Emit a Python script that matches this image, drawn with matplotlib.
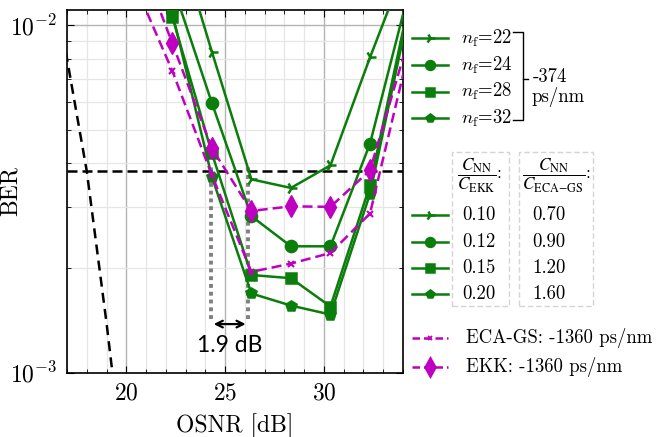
import numpy as np
import matplotlib
matplotlib.use("Agg")
import matplotlib.pyplot as plt
from matplotlib.lines import Line2D
from matplotlib.patches import Rectangle

plt.rcParams["font.family"] = "serif"
plt.rcParams["font.serif"] = ["cmr10"]
plt.rcParams["mathtext.fontset"] = "cm"
plt.rcParams["axes.unicode_minus"] = False
plt.rcParams["axes.formatter.use_mathtext"] = True

# OSNR grid of the measurements (points beyond the axes only extend the lines)
osnr = [20.33, 22.33, 24.33, 26.33, 28.33, 30.33, 32.33, 34.33]
nan = np.nan

# BER, -374 ps/nm, different filter lengths n_f
ber_nf22 = [nan, 0.0200, 0.00838, 0.00360, 0.00340, 0.00395, 0.00807, 0.0159]
ber_nf24 = [nan, 0.0131, 0.00597, 0.00282, 0.00231, 0.00231, 0.00456, 0.0127]
ber_nf28 = [nan, 0.01056, 0.00428, 0.00191, 0.00187, 0.00155, 0.00346, 0.0118]
ber_nf32 = [nan, 0.0108, 0.00366, 0.00169, 0.00156, 0.00147, 0.00327, 0.0112]

# BER, -1360 ps/nm references
ber_eca = [0.0135, 0.00738, 0.00370, 0.00195, 0.00206, 0.00221, 0.00287, 0.0086]
ber_ekk = [0.0177, 0.00886, 0.00442, 0.00292, 0.00301, 0.00300, 0.00382, 0.0093]

# back-to-back theory curve
osnr_b2b = [16.5, 17.0, 18.0, 19.0, 19.5]
ber_b2b = [0.0115, 0.0080, 0.0038, 0.00139, 0.00080]

hd_fec = 3.8e-3
gap_x = [24.28, 26.18]
gap_label = "1.9 dB"

nf_labels = [r"$n_\mathrm{f}$=22", r"$n_\mathrm{f}$=24", r"$n_\mathrm{f}$=28", r"$n_\mathrm{f}$=32"]
ratio_ekk = ["0.10", "0.12", "0.15", "0.20"]
ratio_eca = ["0.70", "0.90", "1.20", "1.60"]
nf_markers = ["4", "o", "s", "p"]
nf_sizes = [9, 8, 7, 7]

green = "#0a7d0a"
mag = "#c000c0"

W, H = 667, 437
fig = plt.figure(figsize=(W / 100, H / 100), dpi=100)
ax = fig.add_axes([67 / W, 1 - 372.7 / H, 336 / W, 362.7 / H])

series = [ber_nf22, ber_nf24, ber_nf28, ber_nf32]
for ber, mk, ms in zip(series, nf_markers, nf_sizes):
    ax.plot(osnr, ber, color=green, lw=1.8, marker=mk, ms=ms, mew=1.8, zorder=4)

ax.plot(osnr, ber_eca, color=mag, lw=1.8, ls=(0, (4, 2)), marker="x", ms=4, mew=1.5, zorder=5)
ax.plot(osnr, ber_ekk, color=mag, lw=1.8, ls=(0, (4, 2)), marker="d", ms=11, zorder=5)
ax.plot(osnr_b2b, ber_b2b, color="black", lw=1.8, ls=(0, (4, 2.5)), zorder=3)
ax.axhline(hd_fec, color="black", lw=1.8, ls=(0, (4, 2)), zorder=3)

ax.vlines(gap_x, 1.43e-3, 3.9e-3, colors="gray", lw=2.8, linestyles=(0, (1, 1)), zorder=2)
ax.annotate("", xy=(gap_x[0], 1.38e-3), xytext=(gap_x[1], 1.38e-3),
            arrowprops=dict(arrowstyle="<->", color="black", lw=1.6, mutation_scale=12))
ax.text(sum(gap_x) / 2, 1.2e-3, gap_label, family="Lato", fontsize=16.5, ha="center", va="center")

ax.set_yscale("log")
ax.set_xlim(17, 34)
ax.set_ylim(1e-3, 0.01105)
ax.set_xticks([20, 25, 30])
ax.set_xticks(np.arange(17, 35, 1), minor=True)
ax.set_yticks([1e-3, 1e-2])
ax.grid(which="major", color="#b4b4b4", lw=1.0)
ax.grid(which="minor", color="#e6e6e6", lw=0.9)
ax.set_axisbelow(True)
ax.tick_params(which="both", direction="in", top=True, right=True, labelsize=17)
ax.tick_params(which="major", length=5, pad=7)
ax.tick_params(which="minor", length=3)
ax.tick_params(axis="y", which="minor", labelleft=False)
for s in ax.spines.values():
    s.set_linewidth(1.2)
ax.set_xlabel("OSNR [dB]", fontsize=17, labelpad=6)
ax.set_ylabel("BER", fontsize=17)
ax.yaxis.set_label_coords(-0.135, 0.5)


# ---- hand made legend in figure pixels ----
def fx(x):
    return x / W


def fy(y):
    return 1 - y / H


def handle(y, color, ls, mk, ms, mew=1.8):
    fig.add_artist(Line2D([fx(412), fx(430), fx(448)], [fy(y)] * 3, transform=fig.transFigure,
                          color=color, lw=1.8, ls=ls, marker=mk, ms=ms, mew=mew, markevery=[1]))


top_rows = [38, 65, 91.7, 118.3]
for y, lab, mk, ms in zip(top_rows, nf_labels, nf_markers, nf_sizes):
    handle(y, green, "-", mk, ms * 0.8)
    fig.text(fx(461), fy(y), lab, fontsize=13.5, va="center", ha="left")

# bracket
fig.add_artist(Line2D([fx(513), fx(522.7), fx(522.7), fx(513)], [fy(31.7), fy(31.7), fy(120), fy(120)],
                      transform=fig.transFigure, color="black", lw=1.0))
fig.add_artist(Line2D([fx(522.7), fx(528)], [fy(79), fy(79)], transform=fig.transFigure,
                      color="black", lw=1.0))
fig.text(fx(533), fy(77), "-374", fontsize=13.5, va="center", ha="left")
fig.text(fx(531), fy(97), "ps/nm", fontsize=13.5, va="center", ha="left")

# ratio table
for x0, x1 in [(452, 509), (519, 593)]:
    fig.add_artist(Rectangle((fx(x0), fy(306)), fx(x1 - x0), (306 - 152) / H, transform=fig.transFigure,
                             fill=False, ec="#d4d4d4", lw=1.0, ls=(0, (4, 2))))
fig.text(fx(479), fy(176), r"$\dfrac{C_{\mathrm{NN}}}{C_{\mathrm{EKK}}}$:", fontsize=12.5,
         ha="center", va="center", math_fontfamily="stix")
fig.text(fx(556), fy(176), r"$\dfrac{C_{\mathrm{NN}}}{C_{\mathrm{ECA\!-\!GS}}}$:", fontsize=12.5,
         ha="center", va="center", math_fontfamily="stix")

ratio_rows = [215, 241.7, 268, 294]
for y, r1, r2, mk, ms in zip(ratio_rows, ratio_ekk, ratio_eca, nf_markers, nf_sizes):
    handle(y, green, "-", mk, ms * 0.8)
    fig.text(fx(462), fy(y), r1, fontsize=13.5, va="center", ha="left")
    fig.text(fx(532), fy(y), r2, fontsize=13.5, va="center", ha="left")

handle(338, mag, (0, (3, 1.6)), "x", 3.5, 1.3)
fig.text(fx(466), fy(338), "ECA-GS: -1360 ps/nm", fontsize=13.5, va="center", ha="left")
handle(367, mag, (0, (3, 1.6)), "d", 9)
fig.text(fx(466), fy(367), "EKK: -1360 ps/nm", fontsize=13.5, va="center", ha="left")

fig.savefig("out.png", dpi=100)
